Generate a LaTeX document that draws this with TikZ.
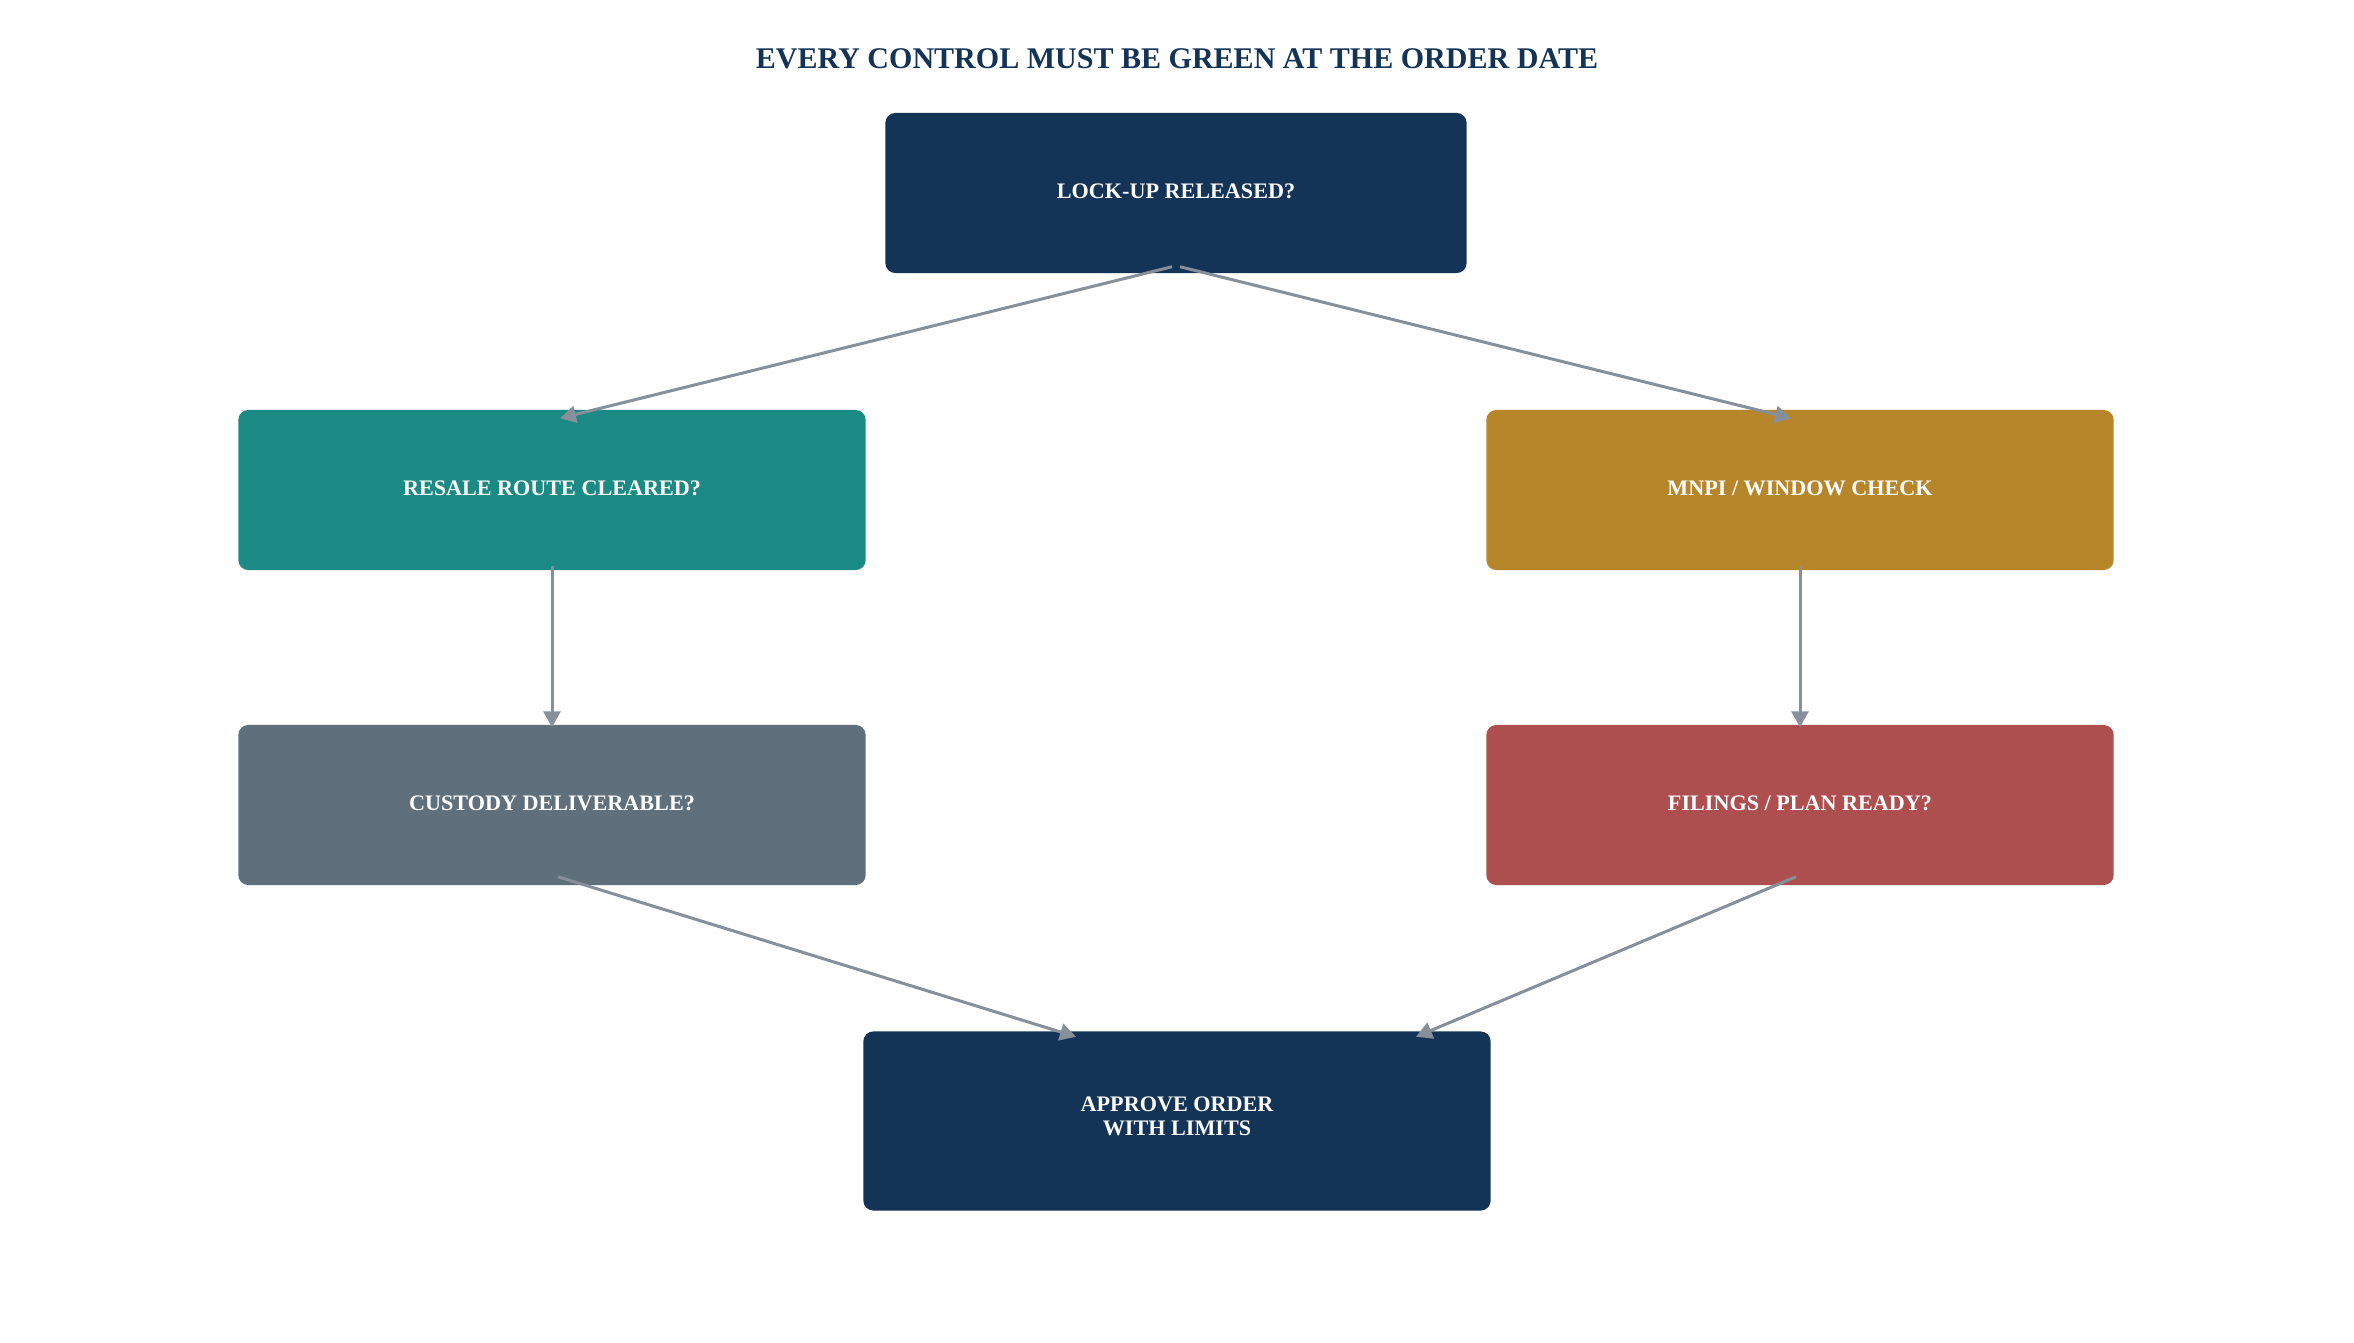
\documentclass[tikz,border=0pt]{standalone}
\usepackage{fontspec}
\setmainfont{Liberation Serif}
\usetikzlibrary{arrows.meta}
\definecolor{ctrlnavy}{HTML}{143457}
\definecolor{ctrlteal}{HTML}{1B8A84}
\definecolor{ctrlgold}{HTML}{B8862A}
\definecolor{ctrlslate}{HTML}{5F6F7C}
\definecolor{ctrlred}{HTML}{AD4E4F}
\definecolor{flowgrey}{HTML}{87909A}
\tikzset{
	ctrlbox/.style={rectangle, rounded corners=0.1cm, minimum width=6.27cm, minimum height=1.6cm, inner sep=0pt, text=white, align=center, font=\bfseries\fontsize{6.3}{6.9}\selectfont},
	flow/.style={-{Triangle[length=0.16cm,width=0.17cm]}, line width=0.03cm, draw=flowgrey}
}
\begin{document}
\begin{tikzpicture}[x=0.01cm,y=-0.01cm]
			\useasboundingbox[fill=white] (0,0) rectangle (2354,1342);
			\node[text=ctrlnavy, font=\bfseries\fontsize{8.54}{10}\selectfont] (title) at (1177,59) {EVERY CONTROL MUST BE GREEN AT THE ORDER DATE};
			\node[ctrlbox, fill=ctrlnavy, minimum width=5.81cm] (lockup) at (1176,193) {\raisebox{0.8pt}{LOCK-UP RELEASED?}};
			\node[ctrlbox, fill=ctrlteal] (resale) at (552,490) {\raisebox{0.8pt}{RESALE ROUTE CLEARED?}};
			\node[ctrlbox, fill=ctrlgold] (mnpi) at (1800,490) {\raisebox{0.8pt}{MNPI / WINDOW CHECK}};
			\node[ctrlbox, fill=ctrlslate] (custody) at (552,805) {\raisebox{0.8pt}{CUSTODY DELIVERABLE?}};
			\node[ctrlbox, fill=ctrlred] (filings) at (1800,805) {\raisebox{0.8pt}{FILINGS / PLAN READY?}};
			\node[ctrlbox, fill=ctrlnavy, minimum height=1.79cm] (approve) at (1177,1121) {};
			\node[text=white, align=center, font=\bfseries\fontsize{6.3}{6.9}\selectfont] (approvetext) at (1177,1116) {APPROVE ORDER\\WITH LIMITS};
			\draw[flow] ([shift={(-4,-7)}]lockup.south) -- ([shift={(8,9)}]resale.north);
			\draw[flow] ([shift={(4,-7)}]lockup.south) -- ([shift={(-9,9)}]mnpi.north);
			\draw[flow] ([yshift=0.05cm]resale.south) -- ([yshift=-0.03cm]custody.north);
			\draw[flow] ([yshift=0.05cm]mnpi.south) -- ([yshift=-0.03cm]filings.north);
			\draw[flow] ([shift={(6,-9)}]custody.south) -- ([shift={(-101,6)}]approve.north);
			\draw[flow] ([shift={(-4,-9)}]filings.south) -- ([shift={(239,6)}]approve.north);
		\end{tikzpicture}
\end{document}
